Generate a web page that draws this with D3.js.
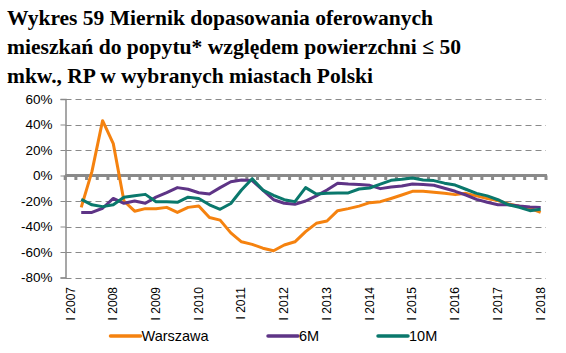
<!DOCTYPE html>
<html>
<head>
<meta charset="utf-8">
<script src="https://cdn.jsdelivr.net/npm/d3@7"></script>
<style>
  body { margin: 0; background: #fff; }
  svg { display: block; }
</style>
</head>
<body>
<script>
// kwartaly I 2007 - I 2018
var quarters = [
  "I 2007","II 2007","III 2007","IV 2007",
  "I 2008","II 2008","III 2008","IV 2008",
  "I 2009","II 2009","III 2009","IV 2009",
  "I 2010","II 2010","III 2010","IV 2010",
  "I 2011","II 2011","III 2011","IV 2011",
  "I 2012","II 2012","III 2012","IV 2012",
  "I 2013","II 2013","III 2013","IV 2013",
  "I 2014","II 2014","III 2014","IV 2014",
  "I 2015","II 2015","III 2015","IV 2015",
  "I 2016","II 2016","III 2016","IV 2016",
  "I 2017","II 2017","III 2017","IV 2017",
  "I 2018"
];

var warszawa = [null,
  -25, 3, 43, 25, -20, -28, -26, -26, -25, -29, -25, -24, -33, -35, -45,
  -52, -54, -57, -59, -54.5, -52, -44, -37.5, -35.7, -27.6, -26, -24, -21.3, -20.5,
  -18, -15.3, -12.4, -12.4, -13.2, -14, -15, -14, -16, -18, -19.7, -22.3, -24, -25.7, -29];

var m6 = [null,
  -29, -29, -25.7, -18, -21.8, -20, -21.8, -17, -13.5, -9.5, -10.8, -13.5, -14.5, -9.5, -4.9,
  -3.5, -4, -11.4, -19, -21.8, -22.6, -20, -16, -11.4, -6, -6.7, -7, -7.7, -10.3,
  -9, -8.2, -6.7, -7, -7.7, -10, -12.4, -15.3, -18.7, -21, -22.9, -23, -24, -24.7, -25];

var m10 = [null,
  -18.7, -23, -24.4, -23, -17, -15.8, -14.8, -20.5, -20.5, -21, -17, -18, -23, -26.5, -22,
  -11.4, -2.5, -11.4, -15.5, -19, -20.5, -9.5, -14.5, -14, -13.7, -13.7, -10.6, -9.8, -6.7,
  -3.8, -3, -2, -3.5, -4, -6, -7.5, -10.8, -14, -16, -19, -23, -25, -27.6, -26.5];

var yTicks = [60, 40, 20, 0, -20, -40, -60, -80];
var seriesNames = ["Warszawa", "6M", "10M"];
var seriesData = [warszawa, m6, m10];
var colors = ["#f5820f", "#5e3486", "#0a786c"];

var titleLines = [
  "Wykres 59 Miernik dopasowania oferowanych",
  "mieszkań do popytu* względem powierzchni ≤ 50",
  "mkw., RP w wybranych miastach Polski"
];

var W = 566, H = 353;
var svg = d3.select("body").append("svg").attr("width", W).attr("height", H);

// tytul
var titleWidths = [426, 454, 366];
svg.append("g").selectAll("text")
  .data(titleLines)
  .enter().append("text")
  .attr("x", 7)
  .attr("y", function(d, i) { return 25 + i * 29; })
  .attr("font-family", "'Liberation Serif', serif")
  .attr("font-weight", "bold")
  .attr("font-size", 22)
  .attr("textLength", function(d, i) { return titleWidths[i]; })
  .attr("lengthAdjust", "spacingAndGlyphs")
  .attr("fill", "#000")
  .text(function(d) { return d; });

var x = d3.scaleBand().domain(quarters).range([65.2, 546]).padding(0);
var y = d3.scaleLinear().domain([-80, 60]).range([277.5, 99]);
var cx = function(i) { return x(quarters[i]) + x.bandwidth() / 2; };

// siatka
svg.append("g").selectAll("line")
  .data(yTicks.filter(function(d) { return d !== 0; }))
  .enter().append("line")
  .attr("x1", 65.5).attr("x2", 546)
  .attr("y1", function(d) { return Math.round(y(d)) + 0.5; })
  .attr("y2", function(d) { return Math.round(y(d)) + 0.5; })
  .attr("stroke", "#8a8a8a")
  .attr("stroke-width", 1)
  .attr("stroke-dasharray", "6,4");

// os Y
var yAxis = d3.axisLeft(y).tickValues(yTicks).tickSize(5).tickFormat(function(d) { return d + "%"; });
var gy = svg.append("g").attr("transform", "translate(65.5,0)").call(yAxis);
gy.select(".domain").attr("stroke", "#8a8a8a").attr("stroke-width", 1.5);
gy.selectAll(".tick line").attr("stroke", "#8a8a8a");
gy.selectAll(".tick text")
  .attr("x", -13)
  .attr("font-family", "'Liberation Sans', Arial, sans-serif")
  .attr("font-size", 13.5)
  .attr("fill", "#000");

// linia zera z podzialkami
var bounds = quarters.map(function(q) { return x(q); }).concat([x.range()[1]]);
var y0 = y(0);
svg.append("g").selectAll("rect")
  .data(bounds)
  .enter().append("rect")
  .attr("x", function(d) { return d - 1.5; })
  .attr("y", y0)
  .attr("width", 3).attr("height", 4.5)
  .attr("fill", "#8a8a8a");
svg.append("line")
  .attr("x1", 65.2).attr("x2", 547)
  .attr("y1", y0).attr("y2", y0)
  .attr("stroke", "#8a8a8a").attr("stroke-width", 3);

// etykiety osi X
var xAxis = d3.axisBottom(x)
  .tickValues(quarters.filter(function(q) { return q.indexOf("I ") === 0; }))
  .tickSize(0);
var gx = svg.append("g").attr("transform", "translate(0,278)").call(xAxis);
gx.select(".domain").remove();
gx.selectAll(".tick text")
  .attr("transform", "translate(4,9) rotate(-90)")
  .attr("x", 0).attr("y", 0).attr("dy", 0)
  .attr("text-anchor", "end")
  .attr("font-family", "'Liberation Sans', Arial, sans-serif")
  .attr("font-size", 12)
  .attr("fill", "#000");

// serie
var line = d3.line()
  .defined(function(d) { return d !== null; })
  .x(function(d, i) { return cx(i); })
  .y(function(d) { return y(d); });

svg.append("g").selectAll("path")
  .data(seriesData)
  .enter().append("path")
  .attr("d", line)
  .attr("fill", "none")
  .attr("stroke", function(d, i) { return colors[i]; })
  .attr("stroke-width", 3)
  .attr("stroke-linejoin", "round");

// legenda
var legendX = [110.5, 268, 378];
var leg = svg.append("g").selectAll("g")
  .data(seriesNames)
  .enter().append("g")
  .attr("transform", function(d, i) { return "translate(" + legendX[i] + ",336)"; });
leg.append("line")
  .attr("x1", 0).attr("x2", 30)
  .attr("stroke", function(d, i) { return colors[i]; })
  .attr("stroke-width", 3.5)
  .attr("stroke-linecap", "round");
leg.append("text")
  .attr("x", 31).attr("y", 5)
  .attr("font-family", "'Liberation Sans', Arial, sans-serif")
  .attr("font-size", 14.5)
  .attr("fill", "#000")
  .text(function(d) { return d; });
</script>
</body>
</html>
